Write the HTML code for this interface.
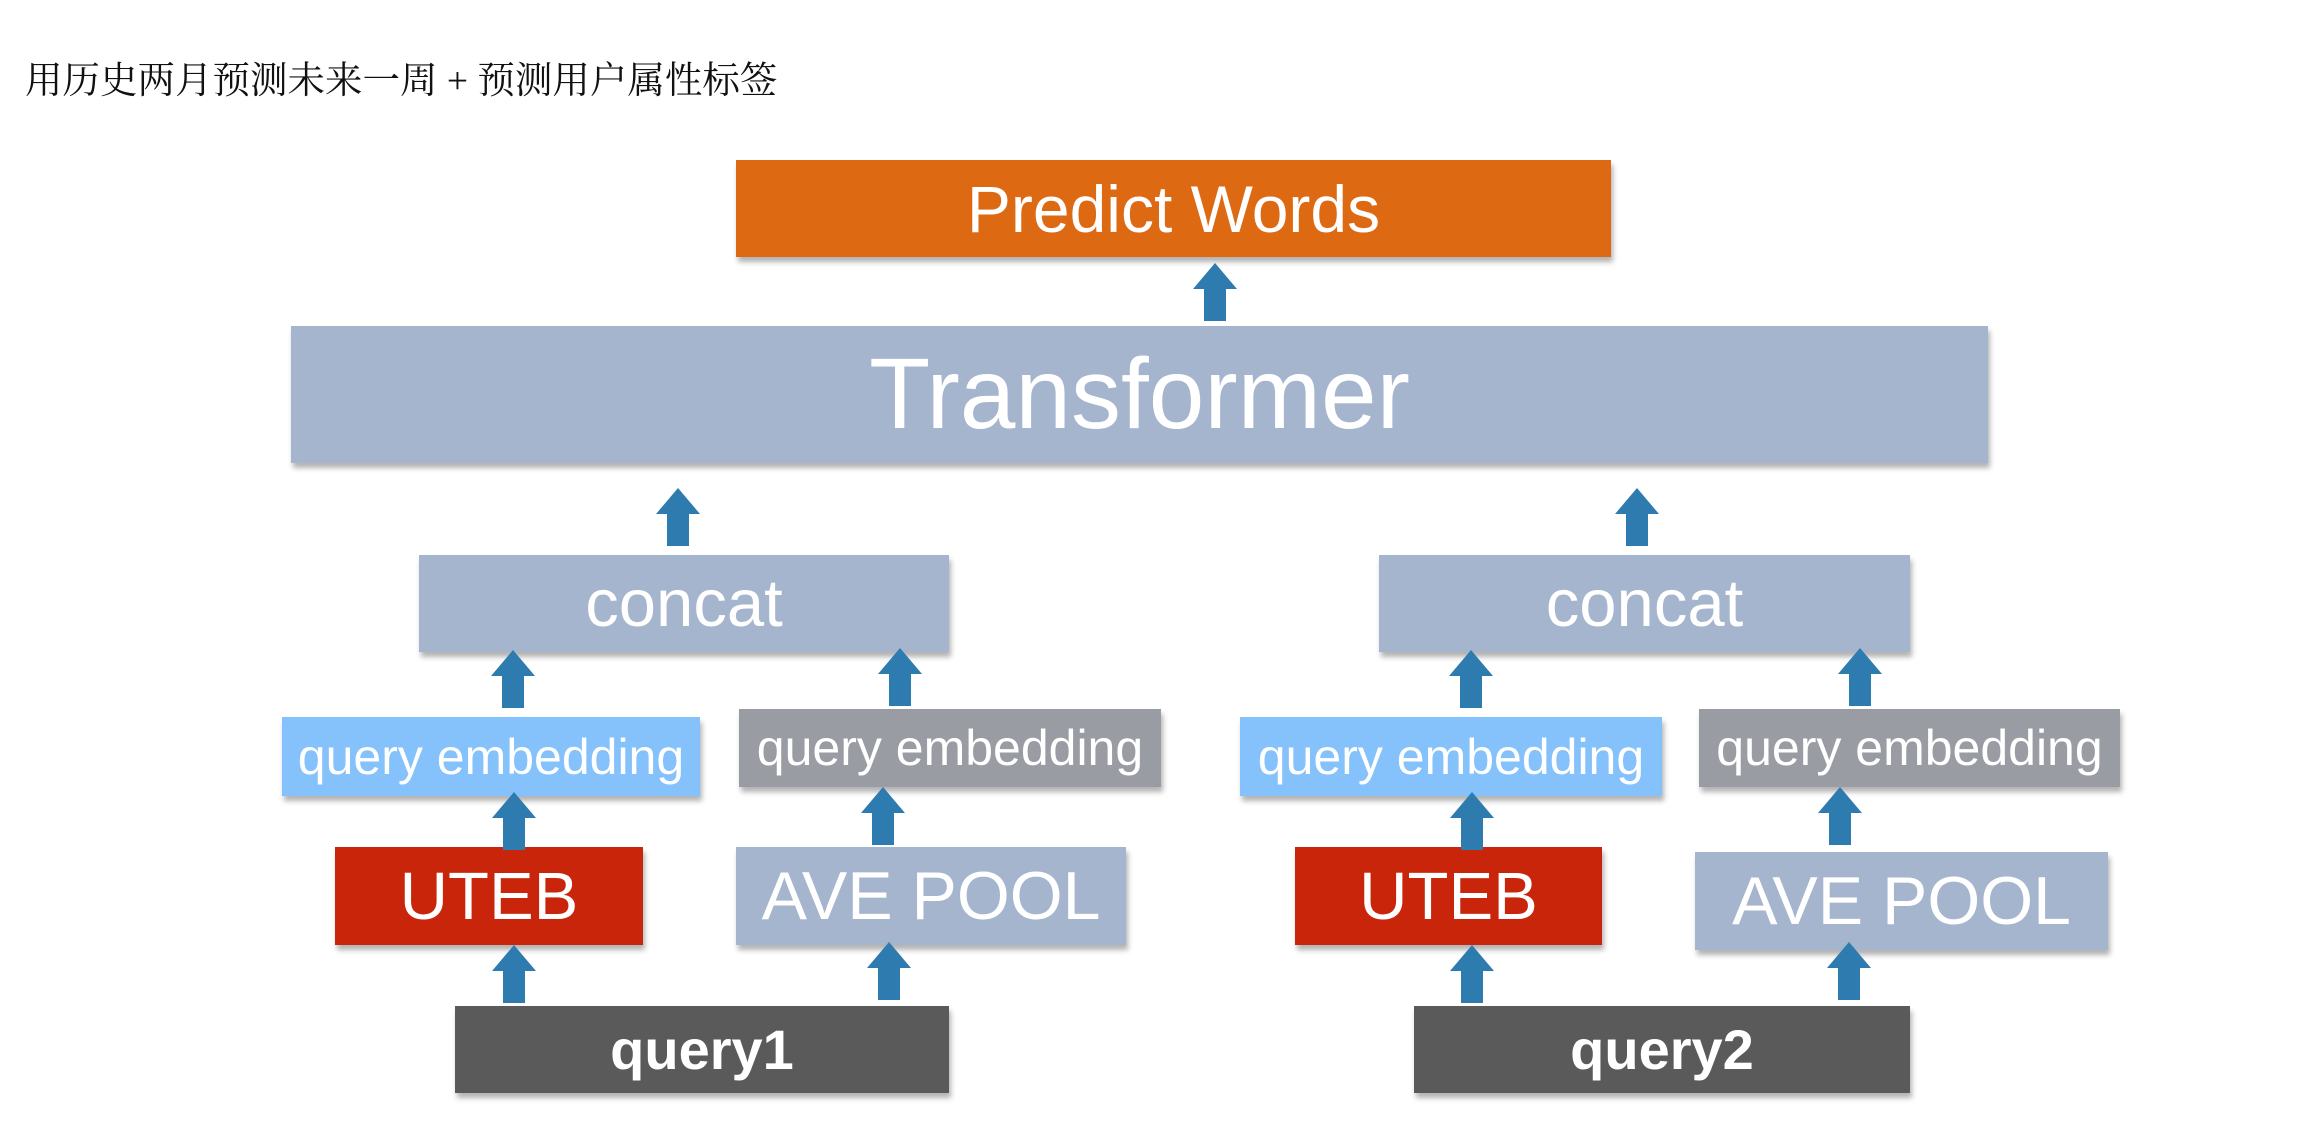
<!DOCTYPE html>
<html><head><meta charset="utf-8"><style>
body{margin:0;width:2307px;height:1131px;background:#fff;position:relative;overflow:hidden;font-family:"Liberation Sans","Noto Sans CJK SC",sans-serif}
.b{position:absolute;display:flex;align-items:center;justify-content:center;color:#fff;box-shadow:2px 5px 5px rgba(0,0,0,0.3);white-space:nowrap}
</style></head><body>
<div style="position:absolute;left:25px;top:50px;font-size:37.5px;color:#111;font-family:'Liberation Serif','Noto Serif CJK SC',serif">用历史两月预测未来一周 + 预测用户属性标签</div>

<div class="b" style="left:736px;top:160px;width:875px;height:97px;background:#DD6A12;font-size:66px">Predict Words</div>
<div class="b" style="left:291px;top:326px;width:1697px;height:137px;background:#A5B5CE;font-size:100px">Transformer</div>

<div class="b" style="left:419px;top:555px;width:530px;height:97px;background:#A5B5CE;font-size:67px">concat</div>
<div class="b" style="left:1379px;top:555px;width:531px;height:97px;background:#A5B5CE;font-size:67px">concat</div>

<div class="b" style="left:282px;top:717px;width:418px;height:79px;background:#85C1FA;font-size:50px">query embedding</div>
<div class="b" style="left:739px;top:709px;width:422px;height:78px;background:#999CA3;font-size:50px">query embedding</div>
<div class="b" style="left:1240px;top:717px;width:422px;height:79px;background:#85C1FA;font-size:50px">query embedding</div>
<div class="b" style="left:1699px;top:709px;width:421px;height:78px;background:#999CA3;font-size:50px">query embedding</div>

<div class="b" style="left:335px;top:847px;width:308px;height:98px;background:#C8250A;font-size:67px">UTEB</div>
<div class="b" style="left:736px;top:847px;width:390px;height:98px;background:#A5B5CE;font-size:68px">AVE POOL</div>
<div class="b" style="left:1295px;top:847px;width:307px;height:98px;background:#C8250A;font-size:67px">UTEB</div>
<div class="b" style="left:1695px;top:852px;width:413px;height:98px;background:#A5B5CE;font-size:68px">AVE POOL</div>

<div class="b" style="left:455px;top:1006px;width:494px;height:87px;background:#5A5A5A;font-size:56px;font-weight:bold">query1</div>
<div class="b" style="left:1414px;top:1006px;width:496px;height:87px;background:#5A5A5A;font-size:56px;font-weight:bold">query2</div>

<svg width="2307" height="1131" style="position:absolute;left:0;top:0">
<defs><g id="ar"><polygon points="0,0 22,26 11,26 11,58 -11,58 -11,26 -22,26" fill="#2E7BB0"/></g></defs>
<use href="#ar" x="1215" y="263"/>
<use href="#ar" x="678" y="488"/>
<use href="#ar" x="1637" y="488"/>
<use href="#ar" x="513" y="650"/>
<use href="#ar" x="900" y="648"/>
<use href="#ar" x="1471" y="650"/>
<use href="#ar" x="1860" y="648"/>
<use href="#ar" x="514" y="792"/>
<use href="#ar" x="883" y="787"/>
<use href="#ar" x="1472" y="792"/>
<use href="#ar" x="1840" y="787"/>
<use href="#ar" x="514" y="945"/>
<use href="#ar" x="889" y="942"/>
<use href="#ar" x="1472" y="945"/>
<use href="#ar" x="1849" y="942"/>
</svg>
</body></html>
